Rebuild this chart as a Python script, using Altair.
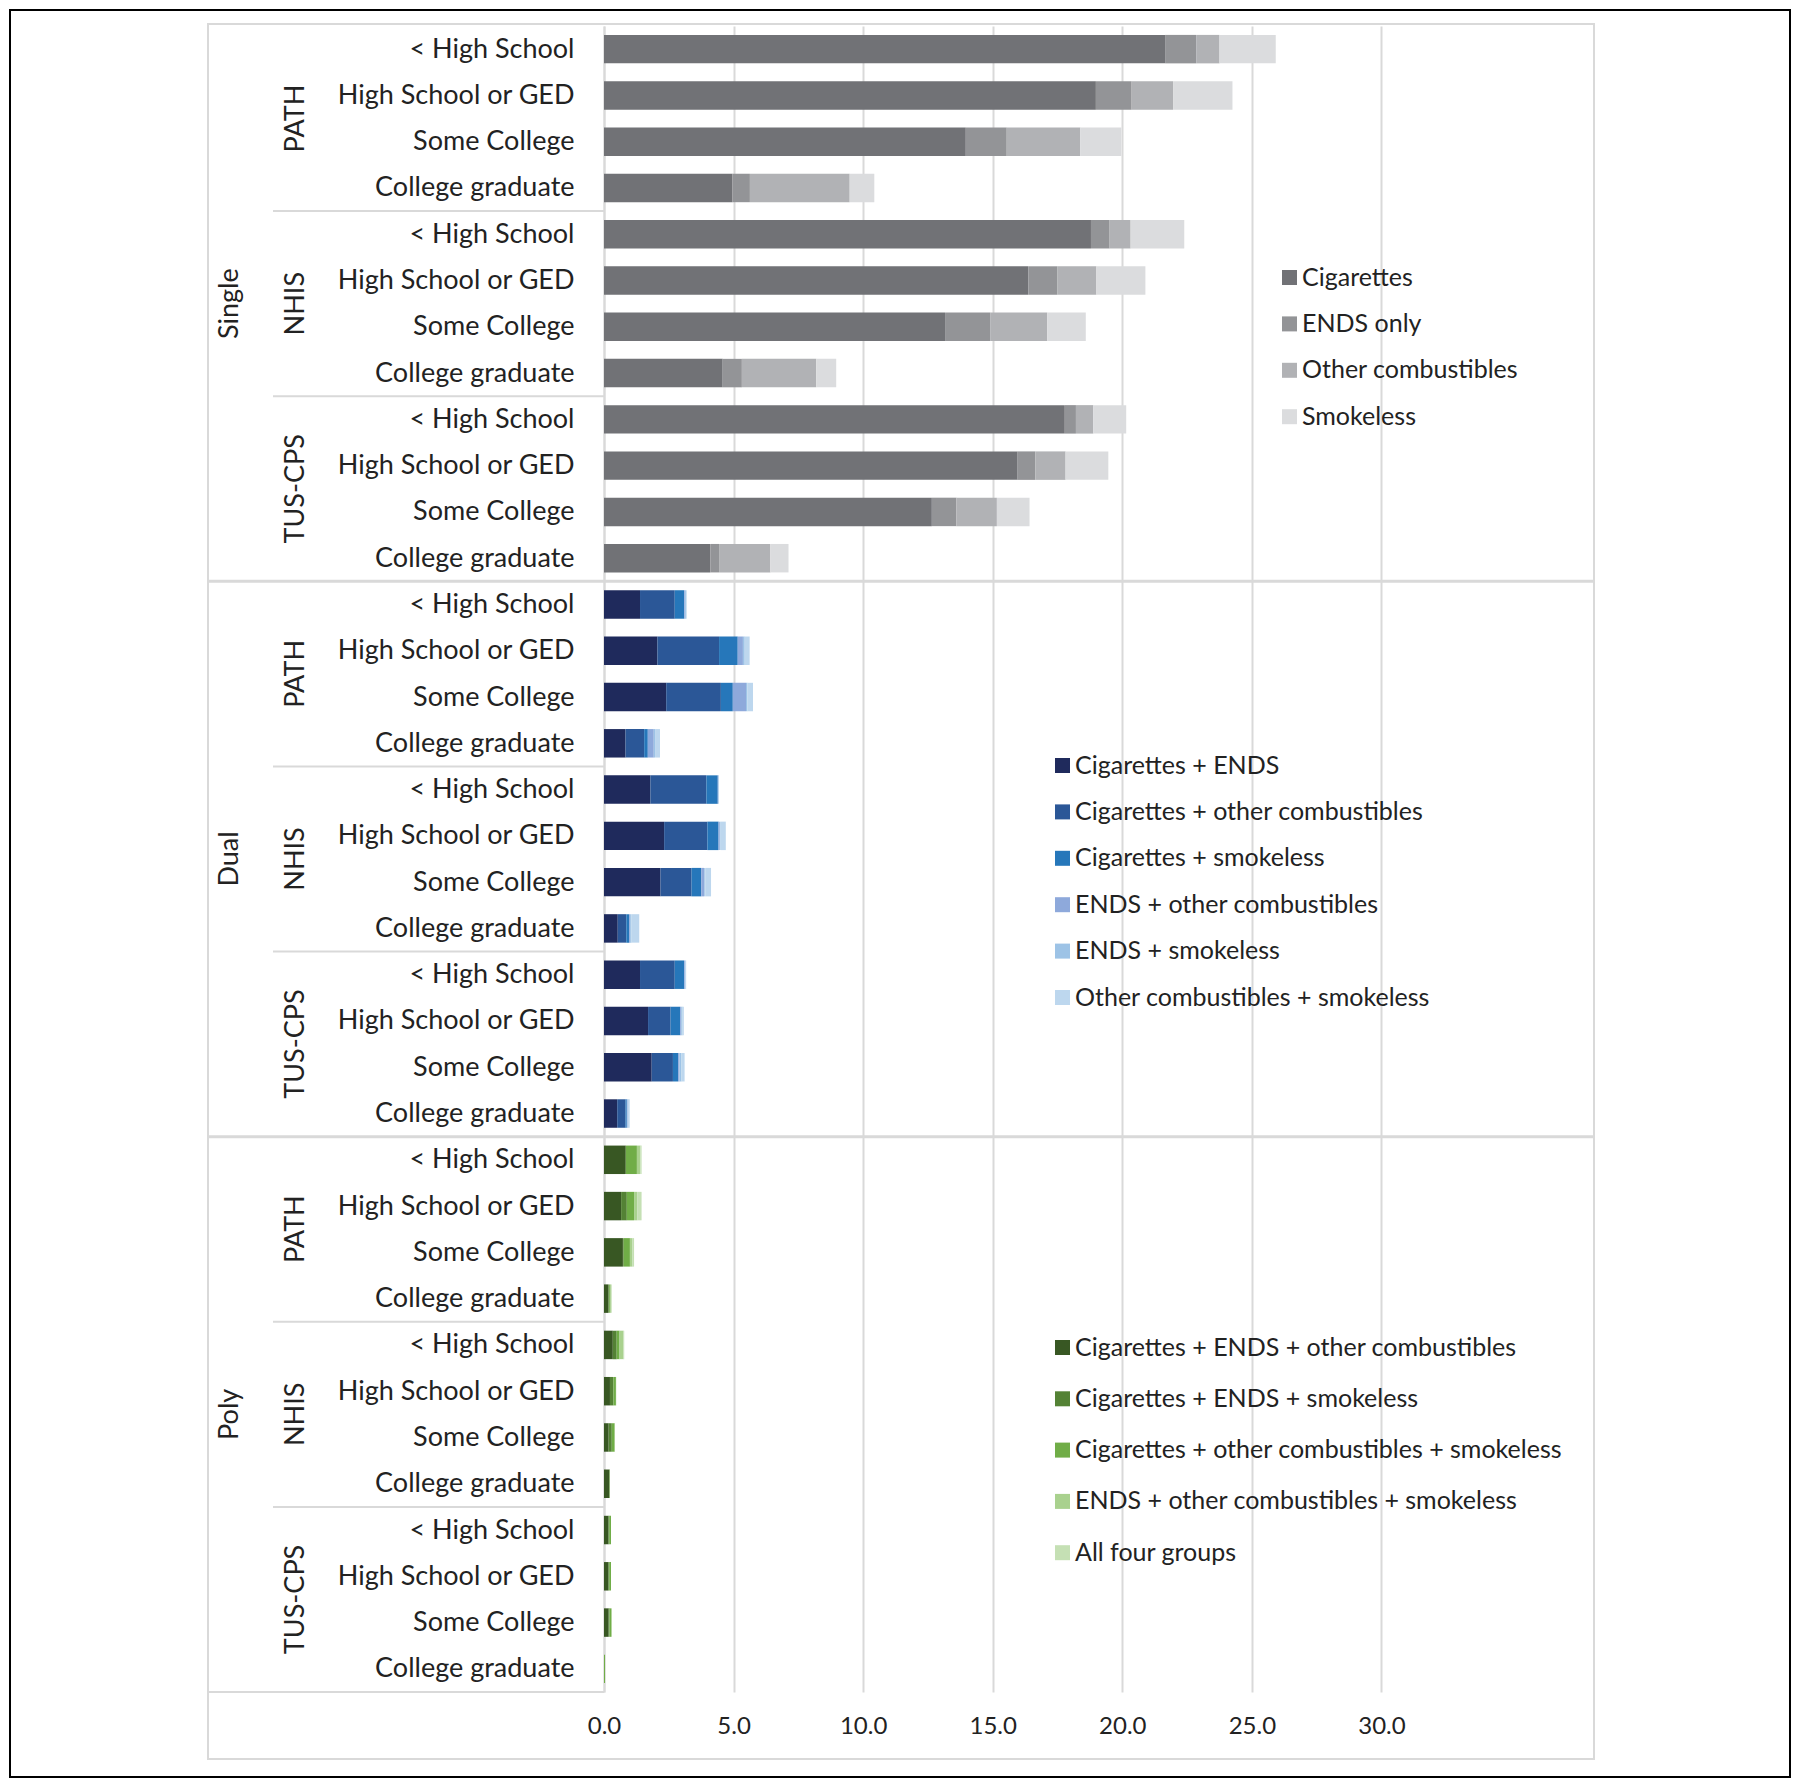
import altair as alt
import pandas as pd

FONT = "Lato"
TXT = "#222222"
GRID = "#d9d9d9"

panels = ["Single", "Dual", "Poly"]
sources = ["PATH", "NHIS", "TUS-CPS"]
education = ["< High School", "High School or GED", "Some College", "College graduate"]

# Row order inside each panel: PATH (4 levels), NHIS (4 levels), TUS-CPS (4 levels)
single_cats = ["Cigarettes", "ENDS only", "Other combustibles", "Smokeless"]
single_colors = ["#717276", "#939497", "#B1B2B5", "#DBDCDE"]
single_cigarettes = [21.65, 18.98, 13.96, 4.96, 18.79, 16.37, 13.16, 4.58, 17.78, 15.94, 12.65, 4.10]
single_ends = [1.20, 1.38, 1.58, 0.67, 0.72, 1.13, 1.74, 0.74, 0.43, 0.70, 0.95, 0.34]
single_other = [0.90, 1.60, 2.84, 3.85, 0.81, 1.50, 2.20, 2.87, 0.67, 1.17, 1.56, 1.98]
single_smokeless = [2.17, 2.29, 1.58, 0.95, 2.07, 1.89, 1.49, 0.77, 1.27, 1.65, 1.26, 0.70]

dual_cats = ["Cigarettes + ENDS", "Cigarettes + other combustibles", "Cigarettes + smokeless",
             "ENDS + other combustibles", "ENDS + smokeless", "Other combustibles + smokeless"]
dual_colors = ["#1F2A5C", "#2B5797", "#2677BA", "#8EA9DB", "#9DC3E6", "#BDD7EE"]
dual_cig_ends = [1.39, 2.06, 2.40, 0.83, 1.79, 2.32, 2.18, 0.53, 1.39, 1.70, 1.84, 0.51]
dual_cig_other = [1.34, 2.38, 2.11, 0.72, 2.16, 1.67, 1.20, 0.33, 1.34, 0.87, 0.82, 0.32]
dual_cig_smokeless = [0.36, 0.72, 0.46, 0.14, 0.44, 0.43, 0.37, 0.11, 0.36, 0.37, 0.20, 0.05]
dual_ends_other = [0.03, 0.20, 0.51, 0.23, 0.02, 0.05, 0.12, 0.04, 0.03, 0.04, 0.05, 0.03]
dual_ends_smokeless = [0.04, 0.07, 0.05, 0.05, 0.02, 0.03, 0.04, 0.05, 0.03, 0.05, 0.08, 0.04]
dual_other_smokeless = [0.03, 0.19, 0.22, 0.19, 0.00, 0.20, 0.22, 0.30, 0.02, 0.05, 0.12, 0.04]

poly_cats = ["Cigarettes + ENDS + other combustibles", "Cigarettes + ENDS + smokeless",
             "Cigarettes + other combustibles + smokeless", "ENDS + other combustibles + smokeless",
             "All four groups"]
poly_colors = ["#385723", "#548235", "#70AD47", "#A9D18E", "#C5E0B4"]
poly_cig_ends_other = [0.84, 0.66, 0.73, 0.17, 0.34, 0.23, 0.18, 0.20, 0.17, 0.17, 0.18, 0.00]
poly_cig_ends_smokeless = [0.00, 0.22, 0.03, 0.03, 0.15, 0.13, 0.12, 0.02, 0.03, 0.03, 0.03, 0.00]
poly_cig_other_smokeless = [0.43, 0.28, 0.24, 0.05, 0.11, 0.10, 0.11, 0.01, 0.07, 0.07, 0.08, 0.04]
poly_ends_other_smokeless = [0.13, 0.12, 0.10, 0.03, 0.15, 0.01, 0.01, 0.00, 0.00, 0.00, 0.00, 0.00]
poly_all_four = [0.05, 0.17, 0.06, 0.02, 0.03, 0.00, 0.00, 0.00, 0.00, 0.00, 0.00, 0.00]

x_ticks = [0, 5, 10, 15, 20, 25, 30]

HALF = 0.3076  # half bar thickness in row units


def stacked(panel_idx, cats, series):
    recs = []
    for j in range(12):
        row = panel_idx * 12 + j
        cum = 0.0
        for k, cat in enumerate(cats):
            v = series[k][j]
            recs.append({"category": cat, "x0": cum, "x1": cum + v,
                         "y0": row - HALF, "y1": row + HALF, "order": k})
            cum += v
    return pd.DataFrame(recs)


df_single = stacked(0, single_cats, [single_cigarettes, single_ends, single_other, single_smokeless])
df_dual = stacked(1, dual_cats, [dual_cig_ends, dual_cig_other, dual_cig_smokeless,
                                 dual_ends_other, dual_ends_smokeless, dual_other_smokeless])
df_poly = stacked(2, poly_cats, [poly_cig_ends_other, poly_cig_ends_smokeless, poly_cig_other_smokeless,
                                 poly_ends_other_smokeless, poly_all_four])

W, H = 990, 1666
PAD = {"left": 596, "top": 18, "right": 198, "bottom": 87}

yscale = alt.Scale(domain=[-0.5, 35.5], reverse=True, nice=False, zero=False)
xscale = alt.Scale(domain=[0, 38.2], nice=False, zero=True)

label_arr = "[" + ",".join("'" + e + "'" for e in education) + "]"
yaxis = alt.Axis(values=list(range(36)), labelExpr=f"{label_arr}[datum.value % 4]", title=None,
                 grid=False, ticks=False, tickSize=0, domain=True, domainColor=GRID, domainWidth=2,
                 labelFont=FONT, labelFontSize=27, labelColor=TXT, labelPadding=30, labelLimit=400,
                 labelFlush=False, labelOverlap=False)
xaxis = alt.Axis(values=x_ticks, format=".1f", title=None, grid=True, gridColor=GRID, gridWidth=2,
                 ticks=False, tickSize=0, domain=False, labelFont=FONT, labelFontSize=24,
                 labelColor=TXT, labelPadding=22, labelFlush=False)


def bar_layer(df, cats, colors, lx, ly, rowpad):
    return alt.Chart(df).mark_rect(strokeWidth=0).encode(
        x=alt.X("x0:Q", scale=xscale, axis=xaxis),
        x2="x1:Q",
        y=alt.Y("y0:Q", scale=yscale, axis=yaxis),
        y2="y1:Q",
        color=alt.Color("category:N", scale=alt.Scale(domain=cats, range=colors),
                        legend=alt.Legend(title=None, orient="none", legendX=lx, legendY=ly,
                                          symbolType="square", symbolSize=225, symbolStrokeWidth=0,
                                          labelFont=FONT, labelFontSize=25, labelColor=TXT,
                                          labelLimit=800, rowPadding=rowpad, labelOffset=0,
                                          padding=0)),
    )


one = pd.DataFrame({"k": [0]})

outer = alt.Chart(one).mark_rect(fillOpacity=0, stroke="#000000", strokeWidth=2).encode(
    x=alt.value(-PAD["left"] + 2), x2=alt.value(W + PAD["right"] - 2),
    y=alt.value(-PAD["top"] + 2), y2=alt.value(H + PAD["bottom"] - 2))
frame = alt.Chart(one).mark_rect(fillOpacity=0, stroke=GRID, strokeWidth=2).encode(
    x=alt.value(-396), x2=alt.value(W), y=alt.value(-2), y2=alt.value(1733))

src_bounds = pd.DataFrame({"yb": [p * 12 + b for p in range(3) for b in (3.5, 7.5)]})
src_rules = alt.Chart(src_bounds).mark_rule(color=GRID, strokeWidth=2).encode(
    y=alt.Y("yb:Q", scale=yscale, axis=yaxis), x=alt.value(-331), x2=alt.value(0))

panel_bounds = pd.DataFrame({"yb": [11.5, 23.5]})
panel_rules = alt.Chart(panel_bounds).mark_rule(color=GRID, strokeWidth=3).encode(
    y=alt.Y("yb:Q", scale=yscale, axis=yaxis), x=alt.value(-396), x2=alt.value(W))

bottom_bound = pd.DataFrame({"yb": [35.5]})
bottom_rule = alt.Chart(bottom_bound).mark_rule(color=GRID, strokeWidth=2).encode(
    y=alt.Y("yb:Q", scale=yscale, axis=yaxis), x=alt.value(-396), x2=alt.value(0))

src_df = pd.DataFrame({"label": [s for p in range(3) for s in sources],
                       "yc": [p * 12 + s * 4 + 1.5 for p in range(3) for s in range(3)]})
src_text = alt.Chart(src_df).mark_text(angle=270, font=FONT, fontSize=27, color=TXT,
                                       align="center", baseline="middle").encode(
    x=alt.value(-308), y=alt.Y("yc:Q", scale=yscale, axis=yaxis), text="label:N")

pan_df = pd.DataFrame({"label": panels, "yc": [p * 12 + 5.5 for p in range(3)]})
pan_text = alt.Chart(pan_df).mark_text(angle=270, font=FONT, fontSize=27, color=TXT,
                                       align="center", baseline="middle").encode(
    x=alt.value(-374), y=alt.Y("yc:Q", scale=yscale, axis=yaxis), text="label:N")

bars_single = bar_layer(df_single, single_cats, single_colors, 673, 239, 20.4)
bars_dual = bar_layer(df_dual, dual_cats, dual_colors, 446, 727, 20.4)
bars_poly = bar_layer(df_poly, poly_cats, poly_colors, 446, 1309, 25.3)

chart = alt.layer(
    outer, frame, src_rules, panel_rules, bottom_rule, src_text, pan_text,
    bars_single, bars_dual, bars_poly,
).resolve_scale(color="independent").properties(
    width=W, height=H, padding=PAD, autosize=alt.AutoSizeParams(type="none"),
    background="white",
).configure_view(strokeOpacity=0)

chart.save("out.html", embed_options={"renderer": "svg", "actions": False})
